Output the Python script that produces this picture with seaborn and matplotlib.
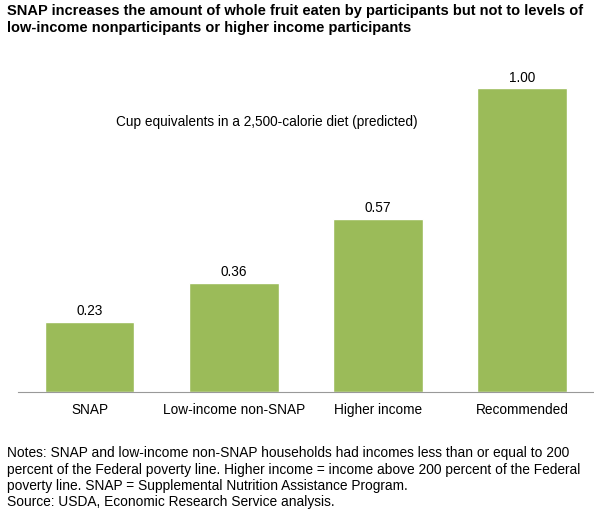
import matplotlib
matplotlib.use("Agg")
import matplotlib.pyplot as plt
import seaborn as sns
import pandas as pd

categories = ["SNAP", "Low-income non-SNAP", "Higher income", "Recommended"]
values = [0.23, 0.36, 0.57, 1.00]
labels = ["0.23", "0.36", "0.57", "1.00"]

sns.set_style("white")
plt.rcParams['font.family'] = ['Liberation Sans', 'DejaVu Sans']
plt.rcParams['text.color'] = 'black'
plt.rcParams['xtick.color'] = 'black'

fig = plt.figure(figsize=(5.94, 5.13), dpi=100)
ax = fig.add_axes([0.03, 0.236, 0.97, 0.651])
df = pd.DataFrame({"cat": categories, "val": values})
sns.barplot(data=df, x="cat", y="val", color="#9BBB59", saturation=1, width=0.62, ax=ax)
ax.set_ylim(0, 1.1)
ax.set_xlim(-0.5, 3.5)
for i, (v, l) in enumerate(zip(values, labels)):
    ax.text(i, v + 0.012, l, ha="center", va="bottom", fontsize=9.8, color="black")
for s in ["top", "right", "left"]:
    ax.spines[s].set_visible(False)
ax.spines["bottom"].set_color("#999999")
ax.set_yticks([])
ax.set_xlabel("")
ax.set_ylabel("")
ax.tick_params(axis="x", length=0, labelsize=9.8, pad=8, labelcolor="black")
ax.text(0.17, 0.795, "Cup equivalents in a 2,500-calorie diet (predicted)",
        transform=ax.transAxes, fontsize=9.8, color="black")

fig.text(0.012, 0.993, "SNAP increases the amount of whole fruit eaten by participants but not to levels of\nlow-income nonparticipants or higher income participants",
         fontsize=10.5, fontweight="bold", va="top", ha="left", linespacing=1.3, color="black")
fig.text(0.012, 0.13, "Notes: SNAP and low-income non-SNAP households had incomes less than or equal to 200\npercent of the Federal poverty line. Higher income = income above 200 percent of the Federal\npoverty line. SNAP = Supplemental Nutrition Assistance Program.\nSource: USDA, Economic Research Service analysis.",
         fontsize=9.9, va="top", ha="left", linespacing=1.2, color="black")
fig.savefig("out.png", dpi=100)
